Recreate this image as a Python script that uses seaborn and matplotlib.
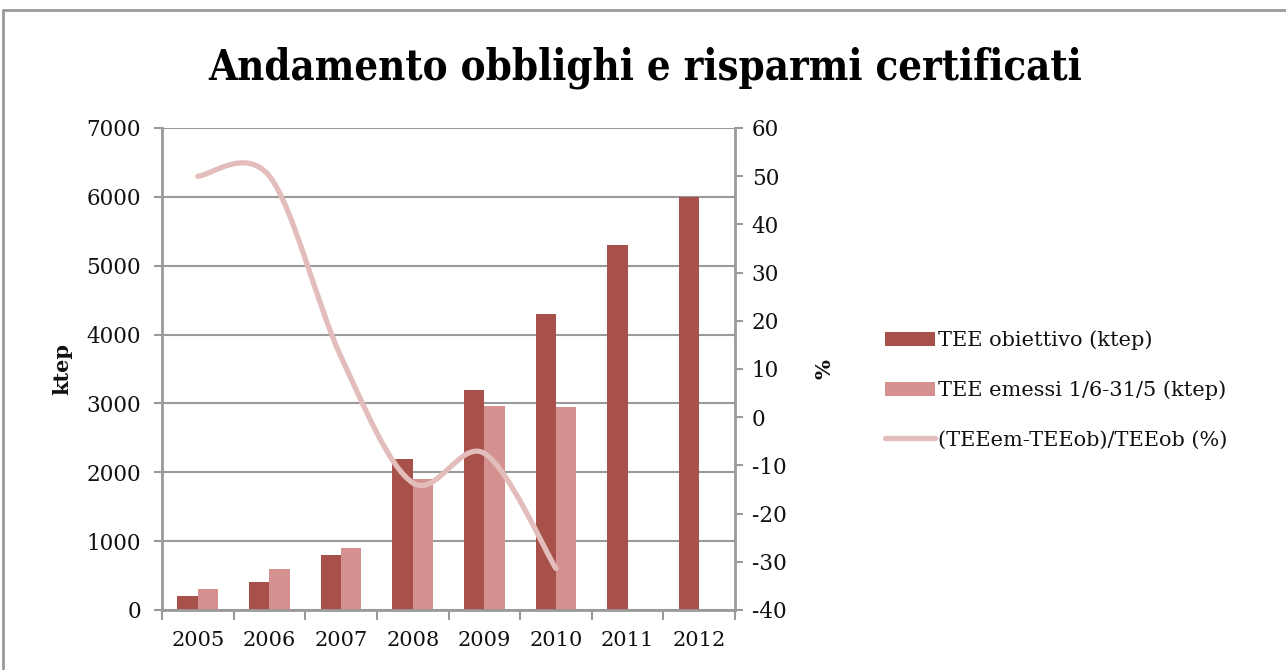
import numpy as np
import pandas as pd
import matplotlib
matplotlib.use("Agg")
import matplotlib.pyplot as plt
import seaborn as sns
from matplotlib.path import Path
from matplotlib.patches import PathPatch, Patch
from matplotlib.lines import Line2D

# ---- data ----
years = ["2005", "2006", "2007", "2008", "2009", "2010", "2011", "2012"]
tee_obiettivo = [200, 400, 800, 2200, 3200, 4300, 5300, 6000]
tee_emessi = [300, 600, 900, 1900, 2960, 2950, np.nan, np.nan]
pct_years = ["2005", "2006", "2007", "2008", "2009", "2010"]
pct_values = [50.0, 50.0, 12.5, -13.6, -7.5, -31.4]

lab_ob = "TEE obiettivo (ktep)"
lab_em = "TEE emessi 1/6-31/5 (ktep)"
lab_pct = "(TEEem-TEEob)/TEEob (%)"

dark = "#A8504A"
light = "#D5918F"
linec = "#E2BDBB"
grid_c = "#9A9A9A"
txt = "#111111"

df = pd.DataFrame({
    "year": years * 2,
    "value": tee_obiettivo + tee_emessi,
    "series": [lab_ob] * len(years) + [lab_em] * len(years),
})

sns.set_theme(style="white")
plt.rcParams["font.family"] = ["DejaVu Serif"]
plt.rcParams["axes.unicode_minus"] = False
plt.rcParams["text.color"] = txt
plt.rcParams["axes.labelcolor"] = txt
plt.rcParams["xtick.labelcolor"] = txt
plt.rcParams["ytick.labelcolor"] = txt

fig = plt.figure(figsize=(12.86, 6.70), dpi=100)
ax = fig.add_axes([162 / 1286, 1 - 610 / 670, (735 - 162) / 1286, (610 - 128) / 670])

sns.barplot(data=df, x="year", y="value", hue="series", order=years,
            hue_order=[lab_ob, lab_em], palette=[dark, light], width=0.57,
            saturation=1, ax=ax, legend=False, linewidth=0)

ax.set_ylim(0, 7000)
ax.set_yticks(np.arange(0, 7001, 1000))
ax.set_xlim(-0.5, len(years) - 0.5)
ax.yaxis.grid(True, color=grid_c, linewidth=1.5)
ax.set_axisbelow(True)
ax.set_xlabel("")
ax.set_ylabel("ktep", fontsize=15, fontweight="bold", labelpad=10)

# x ticks at category boundaries, labels at centres
ax.set_xticks(np.arange(-0.5, len(years), 1.0))
ax.set_xticklabels([])
ax.set_xticks(np.arange(len(years)), minor=True)
ax.set_xticklabels(years, minor=True, fontsize=15)
ax.tick_params(axis="x", which="major", length=7, width=1.5, color=grid_c, direction="out", bottom=True)
ax.tick_params(axis="x", which="minor", length=0, pad=15, bottom=True)
ax.tick_params(axis="y", length=6, width=1.5, color=grid_c, direction="out", labelsize=15.5, left=True, pad=9)

for s in ["top", "right"]:
    ax.spines[s].set_visible(False)
for s in ["left", "bottom"]:
    ax.spines[s].set_color(grid_c)
    ax.spines[s].set_linewidth(2)

# secondary axis
ax2 = ax.twinx()
ax2.set_ylim(-40, 60)
ax2.set_yticks(np.arange(-40, 61, 10))
ax2.tick_params(axis="y", length=6, width=1.5, color=grid_c, direction="out", labelsize=15.5, right=True, pad=6)
for s in ["top", "left", "bottom"]:
    ax2.spines[s].set_visible(False)
ax2.spines["right"].set_color(grid_c)
ax2.spines["right"].set_linewidth(2)
ax2.set_ylabel("%", fontsize=15, fontweight="bold", rotation=90, labelpad=20)
ax2.grid(False)

# smooth line (Catmull-Rom -> cubic Bezier, in data coordinates)
xs = np.array([years.index(y) for y in pct_years], dtype=float)
ys = np.array(pct_values, dtype=float)
P = np.column_stack([xs, ys])
verts = [P[0]]
codes = [Path.MOVETO]
n = len(P)
for i in range(n - 1):
    p0 = P[i - 1] if i > 0 else P[i]
    p1 = P[i]
    p2 = P[i + 1]
    p3 = P[i + 2] if i + 2 < n else P[i + 1]
    c1 = p1 + (p2 - p0) / 6.0
    c2 = p2 - (p3 - p1) / 6.0
    verts += [c1, c2, p2]
    codes += [Path.CURVE4] * 3
path = Path(verts, codes)
ax2.add_patch(PathPatch(path, facecolor="none", edgecolor=linec, linewidth=3.8,
                        capstyle="round", zorder=5))

# title
fig.text(645 / 1286, 1 - 68 / 670, "Andamento obblighi e risparmi certificati",
         ha="center", va="center", fontsize=30, fontweight="bold",
         family="DejaVu Serif", fontstretch="condensed", color="black")

# legend
handles = [Patch(facecolor=dark, edgecolor="none"),
           Patch(facecolor=light, edgecolor="none"),
           Line2D([0], [0], color=linec, linewidth=3.8)]
fig.legend(handles, [lab_ob, lab_em, lab_pct], loc="center left",
           bbox_to_anchor=(866 / 1286, 1 - 390 / 670), frameon=False,
           fontsize=15, handlelength=2.4, handleheight=0.7,
           handletextpad=0.15, labelspacing=1.45)

# chart frame
fig.add_artist(Line2D([3 / 1286, 1.0], [1 - 10 / 670, 1 - 10 / 670],
                      color=grid_c, linewidth=2, transform=fig.transFigure))
fig.add_artist(Line2D([3 / 1286, 3 / 1286], [0.0, 1 - 10 / 670],
                      color=grid_c, linewidth=2, transform=fig.transFigure))

fig.savefig("out.png", dpi=100, facecolor="white")
